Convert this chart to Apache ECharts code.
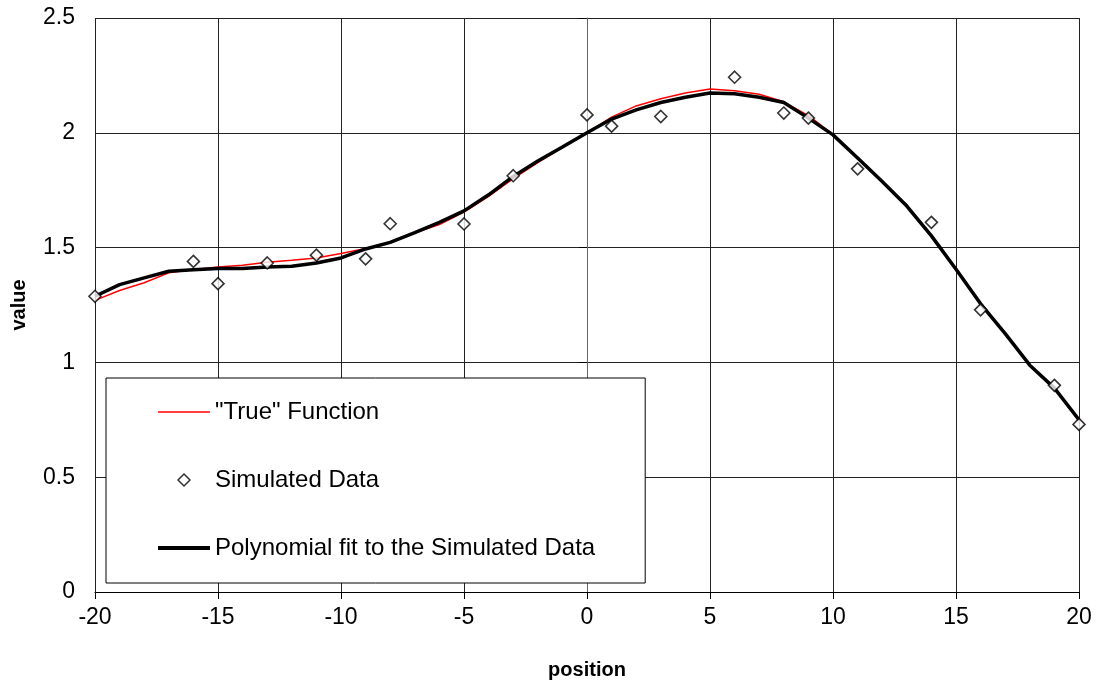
<!DOCTYPE html>
<html>
<head>
  <meta charset="utf-8">
  <style type="text/css">
    body, html { margin: 0; padding: 0; background: #fff; }
    #main { width: 1098px; height: 685px; }
  </style>
  <script src="https://cdn.jsdelivr.net/npm/echarts@6/dist/echarts.min.js"></script>
</head>
<body>
  <div id="main"></div>
  <script>
    // positions -20..20, step 1
    var positions = [-20, -19, -18, -17, -16, -15, -14, -13, -12, -11, -10, -9, -8, -7, -6, -5, -4, -3, -2, -1,
      0, 1, 2, 3, 4, 5, 6, 7, 8, 9, 10, 11, 12, 13, 14, 15, 16, 17, 18, 19, 20]
    var trueValues = [1.27, 1.313, 1.347, 1.39, 1.405, 1.416, 1.423, 1.436, 1.445, 1.455, 1.474, 1.496, 1.525, 1.565, 1.60, 1.655, 1.723, 1.80, 1.87, 1.935,
      2.0, 2.068, 2.117, 2.148, 2.173, 2.191, 2.183, 2.168, 2.135, 2.075, 1.993, 1.893, 1.79, 1.685, 1.555, 1.41, 1.26, 1.125, 0.99, 0.885, 0.745]
    var fitValues = [1.288, 1.339, 1.368, 1.397, 1.404, 1.409, 1.409, 1.416, 1.419, 1.433, 1.455, 1.494, 1.523, 1.565, 1.61, 1.66, 1.73, 1.81, 1.877, 1.938,
      2.0, 2.06, 2.10, 2.132, 2.155, 2.173, 2.170, 2.155, 2.132, 2.064, 1.991, 1.89, 1.788, 1.681, 1.551, 1.406, 1.255, 1.125, 0.988, 0.888, 0.75]

    var simX = [-20, -16, -15, -13, -11, -9, -8, -5, -3, 0, 1, 3, 6, 8, 9, 11, 14, 16, 19, 20]
    var simY = [1.288, 1.44, 1.343, 1.433, 1.467, 1.451, 1.604, 1.603, 1.813, 2.078, 2.029, 2.071, 2.242, 2.086, 2.064, 1.843, 1.61, 1.229, 0.9, 0.73]

    function pairs(xs, ys) {
      return xs.map(function (x, i) { return [x, ys[i]] })
    }

    var font = 'Liberation Sans, Arial, sans-serif'
    var gridLine = { show: true, lineStyle: { color: '#222', width: 1 } }

    var chart = echarts.init(document.getElementById('main'), null, { renderer: 'canvas' })
    chart.setOption({
      animation: false,
      backgroundColor: '#fff',
      grid: { left: 95, right: 19, top: 18, bottom: 92, containLabel: false },
      legend: {
        orient: 'vertical',
        left: 106,
        top: 378,
        padding: [22, 50, 23, 52],
        itemGap: 44,
        itemWidth: 52,
        itemHeight: 12,
        symbolKeepAspect: true,
        backgroundColor: '#fff',
        borderColor: '#000',
        borderWidth: 1,
        borderRadius: 0,
        textStyle: { fontFamily: font, fontSize: 24, color: '#000' },
        data: [
          { name: '"True" Function', icon: 'path://M0,0H52V1.5H0Z',
            itemStyle: { color: '#ff0000', borderWidth: 0 } },
          { name: 'Simulated Data', icon: 'path://M5,0L10,5L5,10L0,5Z',
            itemStyle: { color: '#fff', borderColor: '#000', borderWidth: 1.5 } },
          { name: 'Polynomial fit to the Simulated Data', icon: 'path://M0,0H52V4H0Z',
            itemStyle: { color: '#000', borderWidth: 0 } }
        ]
      },
      xAxis: {
        type: 'value',
        min: -20,
        max: 20,
        interval: 5,
        name: 'position',
        nameLocation: 'middle',
        nameGap: 68,
        nameTextStyle: { fontFamily: font, fontSize: 20, fontWeight: 'bold', color: '#000' },
        axisLine: { show: true, onZero: false, lineStyle: { color: '#000', width: 1 } },
        axisTick: { show: true, inside: false, length: 7, lineStyle: { color: '#000' } },
        axisLabel: { fontFamily: font, fontSize: 23, color: '#000', margin: 14 },
        splitLine: gridLine
      },
      yAxis: {
        type: 'value',
        min: 0,
        max: 2.5,
        interval: 0.5,
        name: 'value',
        nameLocation: 'middle',
        nameGap: 66,
        nameTextStyle: { fontFamily: font, fontSize: 20, fontWeight: 'bold', color: '#000' },
        axisLine: { show: true, lineStyle: { color: '#666', width: 1 } },
        axisTick: { show: true, inside: false, length: 8, lineStyle: { color: '#000' } },
        axisLabel: { fontFamily: font, fontSize: 23, color: '#000', margin: 20 },
        splitLine: gridLine
      },
      series: [
        {
          name: '"True" Function',
          type: 'line',
          data: pairs(positions, trueValues),
          symbol: 'none',
          lineStyle: { color: '#ff0000', width: 1.5 },
          itemStyle: { color: '#ff0000' },
          z: 2
        },
        {
          name: 'Polynomial fit to the Simulated Data',
          type: 'line',
          data: pairs(positions, fitValues),
          symbol: 'none',
          lineStyle: { color: '#000', width: 3.5 },
          itemStyle: { color: '#000' },
          z: 3
        },
        {
          name: 'Simulated Data',
          type: 'scatter',
          data: pairs(simX, simY),
          symbol: 'diamond',
          symbolSize: 12,
          itemStyle: { color: '#fff', borderColor: '#000', borderWidth: 1.6 },
          z: 4
        }
      ]
    })
  </script>
</body>
</html>
